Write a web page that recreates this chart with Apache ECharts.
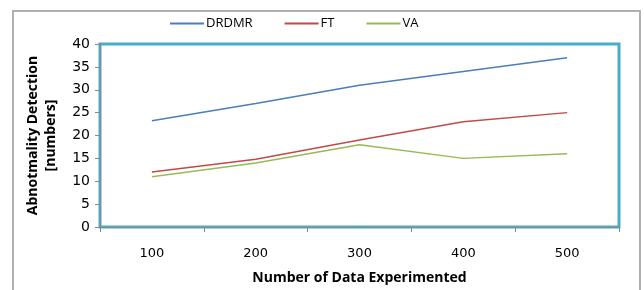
<!DOCTYPE html>
<html>
<head>
<meta charset="utf-8">
<script src="https://cdn.jsdelivr.net/npm/echarts@6/dist/echarts.min.js"></script>
<style>
	html, body { margin: 0; padding: 0; background: #fff; }
	#chart { width: 644px; height: 290px; }
</style>
</head>
<body>
<div id="chart"></div>
<script>
// data
var categories = ['100', '200', '300', '400', '500'];
var drdmr = [23.2, 27, 31, 34, 37];
var ft = [12, 14.8, 19, 23, 25];
var va = [11, 14, 18, 15, 16];

var CHART = {
	init: function()
	{
		this.table = echarts.init(document.getElementById('chart'));
		this.table.setOption(this.option());
	},
	line: function(name, data, color)
	{
		return {
			name: name,
			type: 'line',
			data: data,
			symbol: 'none',
			showSymbol: false,
			lineStyle: { width: 1.5, color: color },
			itemStyle: { color: color }
		};
	},
	option: function()
	{
		var axisGray = '#888';
		return {
			animation: false,
			backgroundColor: '#fff',
			graphic: [{
				type: 'polyline',
				shape: { points: [[13, 300], [13, 11], [640, 11], [640, 300]] },
				style: { stroke: '#b0b0b0', lineWidth: 2, fill: null }
			}],
			legend: {
				top: 12,
				left: 165,
				itemGap: 32,
				itemWidth: 34,
				itemHeight: 2,
				icon: 'rect',
				textStyle: { fontFamily: 'Open Sans', fontSize: 13, color: '#000', padding: [0, 0, 0, -3] },
				data: ['DRDMR', 'FT', 'VA']
			},
			grid: {
				left: 100,
				right: 25,
				top: 44,
				bottom: 60,
				show: true,
				borderColor: '#4BACC6',
				borderWidth: 3,
				containLabel: false
			},
			xAxis: {
				type: 'category',
				data: categories,
				boundaryGap: true,
				name: 'Number of Data Experimented',
				nameLocation: 'middle',
				nameGap: 44,
				nameTextStyle: { fontFamily: 'Open Sans', fontWeight: 'bold', fontSize: 14, color: '#000' },
				axisLine: { lineStyle: { color: axisGray, width: 1 } },
				axisTick: { show: true, length: 5, lineStyle: { color: axisGray } },
				axisLabel: { fontFamily: 'DejaVu Sans', fontSize: 13, color: '#000', margin: 20 },
				splitLine: { show: false }
			},
			yAxis: {
				type: 'value',
				min: 0,
				max: 40,
				interval: 5,
				name: 'Abnotmality Detection\n[numbers]',
				nameLocation: 'middle',
				nameGap: 40,
				nameRotate: 90,
				nameTextStyle: { fontFamily: 'Open Sans', fontWeight: 'bold', fontSize: 14, color: '#000', lineHeight: 18 },
				axisLine: { show: true, lineStyle: { color: axisGray, width: 1 } },
				axisTick: { show: true, length: 5, inside: false, lineStyle: { color: axisGray } },
				axisLabel: { fontFamily: 'DejaVu Sans', fontSize: 14, color: '#000', margin: 10 },
				splitLine: { show: false }
			},
			series: [
				this.line('DRDMR', drdmr, '#4A7EBB'),
				this.line('FT', ft, '#BE4B48'),
				this.line('VA', va, '#98B954')
			]
		};
	}
};

CHART.init();
</script>
</body>
</html>
